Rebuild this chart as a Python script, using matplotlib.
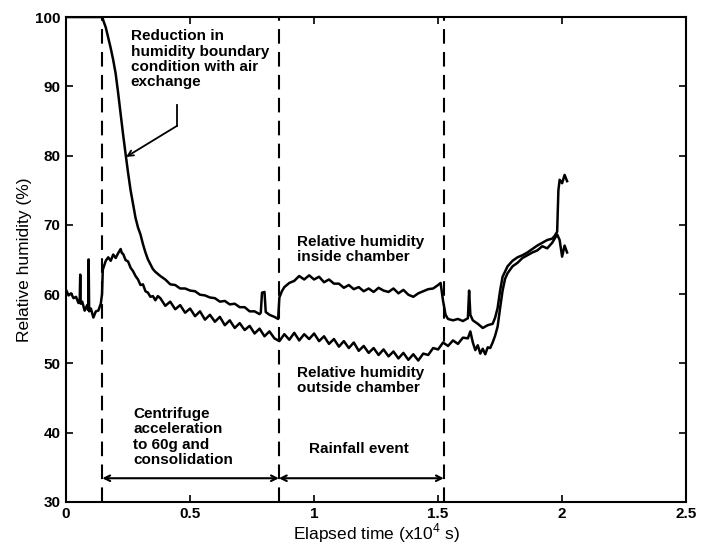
import matplotlib
matplotlib.use("Agg")
import matplotlib.pyplot as plt

plt.rcParams['font.family'] = ['Liberation Sans', 'DejaVu Sans']
plt.rcParams['mathtext.fontset'] = 'custom'
plt.rcParams['mathtext.rm'] = 'Liberation Sans'

# Relative humidity outside chamber (time in x10^4 s, RH in %)
outside_t = [0.00, 0.01, 0.02, 0.03, 0.04, 0.05, 0.055, 0.057, 0.059, 0.065, 0.075, 0.085,
             0.089, 0.091, 0.093, 0.10, 0.11, 0.12, 0.13, 0.14, 0.145, 0.148, 0.16, 0.17,
             0.18, 0.19, 0.20, 0.21, 0.22, 0.225, 0.23, 0.24, 0.25, 0.26, 0.27, 0.28, 0.29,
             0.30, 0.31, 0.32, 0.33, 0.34, 0.35, 0.36, 0.37, 0.38, 0.40, 0.42, 0.44, 0.46,
             0.48, 0.50, 0.52, 0.54, 0.56, 0.58, 0.60, 0.62, 0.64, 0.66, 0.68, 0.70, 0.72,
             0.74, 0.76, 0.78, 0.80, 0.82, 0.84, 0.86, 0.88, 0.90, 0.92, 0.94, 0.96, 0.98,
             1.00, 1.02, 1.04, 1.06, 1.08, 1.10, 1.12, 1.14, 1.16, 1.18, 1.20, 1.22, 1.24,
             1.26, 1.28, 1.30, 1.32, 1.34, 1.36, 1.38, 1.40, 1.42, 1.44, 1.46, 1.48, 1.50,
             1.52, 1.54, 1.56, 1.58, 1.60, 1.62, 1.63, 1.64, 1.65, 1.66, 1.67, 1.68, 1.69,
             1.70, 1.71, 1.72, 1.73, 1.74, 1.75, 1.76, 1.77, 1.78, 1.80, 1.82, 1.84, 1.86,
             1.88, 1.90, 1.92, 1.94, 1.96, 1.98, 1.99, 2.00, 2.01, 2.02]
outside_rh = [60.6, 59.8, 60.1, 59.4, 59.6, 58.7, 59.1, 62.8, 58.6, 58.9, 57.6, 58.4,
              57.7, 65.0, 57.5, 57.9, 56.6, 57.5, 57.6, 58.6, 60.0, 63.5, 64.8, 65.3,
              64.8, 65.7, 65.2, 65.9, 66.5, 65.9, 65.8, 64.9, 64.7, 63.8, 63.3, 62.6, 62.1,
              61.3, 61.4, 60.4, 60.2, 59.6, 59.7, 59.1, 59.7, 59.4, 58.3, 58.9, 57.8, 58.4,
              57.3, 57.9, 56.8, 57.5, 56.3, 57.0, 56.0, 56.7, 55.5, 56.2, 55.1, 55.8, 54.8,
              55.4, 54.3, 55.0, 53.9, 54.6, 53.6, 53.2, 54.2, 53.4, 54.4, 53.3, 54.2, 53.5,
              54.3, 53.2, 53.9, 52.8, 53.5, 52.4, 53.2, 52.2, 53.0, 51.8, 52.5, 51.5, 52.2,
              51.2, 52.0, 51.0, 51.7, 50.7, 51.5, 50.5, 51.3, 50.4, 51.4, 51.2, 52.2, 52.0,
              53.0, 52.5, 53.3, 52.8, 53.7, 53.6, 54.6, 53.0, 51.9, 52.6, 51.4, 52.1, 51.3,
              52.3, 52.2, 53.0, 54.0, 55.3, 58.0, 60.5, 62.2, 63.0, 64.0, 64.5, 65.2, 65.6,
              66.0, 66.3, 66.9, 66.6, 67.4, 68.6, 67.8, 65.4, 67.0, 66.0]

# Relative humidity inside chamber
inside_t = [0.00, 0.146, 0.15, 0.16, 0.17, 0.18, 0.19, 0.20, 0.21, 0.22, 0.23, 0.24, 0.25,
            0.26, 0.27, 0.28, 0.29, 0.30, 0.31, 0.32, 0.33, 0.34, 0.35, 0.36, 0.38, 0.40,
            0.42, 0.44, 0.46, 0.48, 0.50, 0.52, 0.54, 0.56, 0.58, 0.60, 0.62, 0.64, 0.66,
            0.68, 0.70, 0.72, 0.74, 0.76, 0.78, 0.785, 0.79, 0.80, 0.805, 0.82, 0.84, 0.855,
            0.86, 0.87, 0.88, 0.90, 0.92, 0.94, 0.96, 0.98, 1.00, 1.02, 1.04, 1.06, 1.08,
            1.10, 1.12, 1.14, 1.16, 1.18, 1.20, 1.22, 1.24, 1.26, 1.28, 1.30, 1.32, 1.34,
            1.36, 1.38, 1.40, 1.42, 1.44, 1.46, 1.48, 1.50, 1.51, 1.52, 1.53, 1.54, 1.56,
            1.58, 1.60, 1.62, 1.625, 1.63, 1.64, 1.66, 1.68, 1.70, 1.72, 1.73, 1.74, 1.75,
            1.76, 1.78, 1.80, 1.82, 1.84, 1.86, 1.88, 1.90, 1.92, 1.94, 1.96, 1.97, 1.98,
            1.985, 1.99, 2.00, 2.01, 2.02]
inside_rh = [100.0, 100.0, 99.5, 98.5, 97.0, 95.5, 93.8, 91.8, 89.0, 86.0, 83.0, 80.2, 77.5,
             75.0, 73.0, 71.0, 69.6, 68.6, 67.2, 66.0, 65.0, 64.3, 63.6, 63.2, 62.6, 62.1,
             61.4, 61.3, 60.8, 60.8, 60.5, 60.4, 59.9, 59.8, 59.5, 59.4, 58.9, 59.0, 58.5,
             58.6, 58.1, 58.1, 57.5, 57.5, 57.1, 57.3, 60.2, 60.3, 57.4, 57.0, 56.7, 56.4,
             59.5, 60.4, 61.0, 61.6, 61.9, 62.6, 62.1, 62.7, 62.1, 62.5, 61.7, 62.1, 61.5,
             61.5, 60.9, 61.3, 60.7, 61.0, 60.4, 60.8, 60.3, 60.9, 60.5, 60.3, 60.8, 60.1,
             60.6, 59.9, 59.6, 60.1, 60.4, 60.7, 60.8, 61.3, 61.6, 59.0, 57.0, 56.4, 56.2,
             56.4, 56.1, 56.5, 60.5, 57.0, 56.2, 55.7, 55.1, 55.5, 55.7, 56.6, 58.0, 60.5,
             62.5, 64.0, 64.8, 65.3, 65.6, 66.0, 66.5, 67.0, 67.4, 67.8, 68.0, 68.4, 69.0,
             75.0, 76.5, 76.0, 77.2, 76.3]

# Stage boundaries
stage_t = [0.146, 0.858, 1.523]

fig = plt.figure(figsize=(7.03, 5.49), dpi=100)
ax = fig.add_axes([0.094, 0.086, 0.882, 0.883])

ax.plot(outside_t, outside_rh, color='black', lw=1.8)
ax.plot(inside_t, inside_rh, color='black', lw=1.8)

for t in stage_t:
    ax.plot([t, t], [30, 100], color='black', lw=1.5, linestyle=(0, (7, 4)))

# stage arrows
ax.annotate('', xy=(stage_t[0], 33.4), xytext=(stage_t[1], 33.4),
            arrowprops=dict(arrowstyle='<->', lw=1.5, color='black', shrinkA=0, shrinkB=0))
ax.annotate('', xy=(stage_t[1], 33.4), xytext=(stage_t[2], 33.4),
            arrowprops=dict(arrowstyle='<->', lw=1.5, color='black', shrinkA=0, shrinkB=0))

bold = dict(fontsize=11, fontweight='bold', linespacing=1.12)
ax.text(0.27, 43.7, 'Centrifuge\nacceleration\nto 60g and\nconsolidation', va='top', ha='left', **bold)
ax.text(1.18, 37.6, 'Rainfall event', va='center', ha='center', **bold)
ax.text(0.93, 49.6, 'Relative humidity\noutside chamber', va='top', ha='left', **bold)
ax.text(0.93, 68.5, 'Relative humidity\ninside chamber', va='top', ha='left', **bold)
ax.text(0.26, 98.2, 'Reduction in\nhumidity boundary\ncondition with air\nexchange', va='top', ha='left', **bold)

# annotation leader
ax.plot([0.448, 0.448], [87.3, 84.3], color='black', lw=1.3)
ax.annotate('', xy=(0.242, 79.8), xytext=(0.448, 84.3),
            arrowprops=dict(arrowstyle='->', lw=1.3, color='black', shrinkA=0, shrinkB=0))

ax.set_xlim(0, 2.5)
ax.set_ylim(30, 100)
ax.set_xticks([0, 0.5, 1, 1.5, 2, 2.5])
ax.set_xticklabels(['0', '0.5', '1', '1.5', '2', '2.5'])
ax.set_yticks([30, 40, 50, 60, 70, 80, 90, 100])
ax.tick_params(direction='in', top=True, right=True, length=5, width=1.2, labelsize=11, pad=4)
for lab in ax.get_xticklabels() + ax.get_yticklabels():
    lab.set_fontweight('bold')
for s in ax.spines.values():
    s.set_linewidth(1.5)

ax.set_xlabel(r'Elapsed time (x10$^{\mathrm{4}}$ s)', fontsize=12.5, labelpad=0)
ax.set_ylabel('Relative humidity (%)', fontsize=12.5, labelpad=2)

fig.savefig('out.png', dpi=100)
